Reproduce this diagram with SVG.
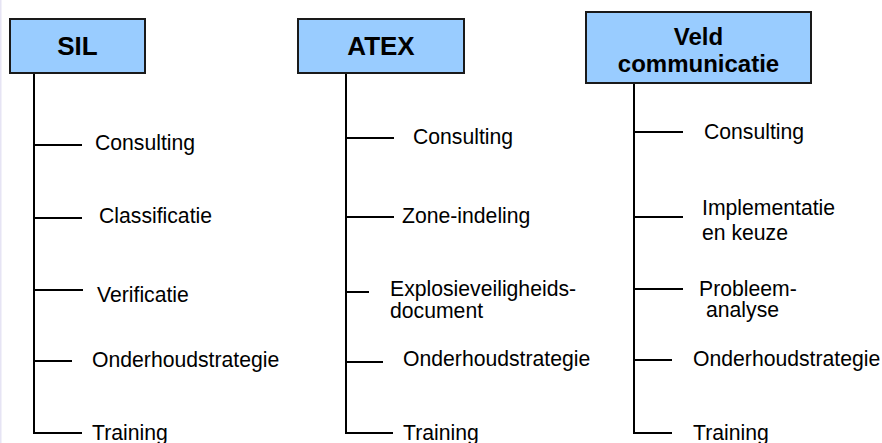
<svg xmlns="http://www.w3.org/2000/svg" width="882" height="443" viewBox="0 0 882 443">
<style>
.bg{fill:#ffffff}
.box{fill:#99ccff;stroke:#1a1a1a;stroke-width:2}
.head{font-family:"Liberation Sans",Arial,sans-serif;font-weight:bold;fill:#000;text-anchor:middle}
.lbl{font-family:"Liberation Sans",Arial,sans-serif;font-size:21.2px;fill:#000}
.ln{stroke:#000;stroke-width:2;fill:none}
</style>
<rect class="bg" x="0" y="0" width="882" height="443"/>
<rect x="0" y="0" width="1.5" height="443" fill="#e6e4f4"/>
<g id="connectors">
<path class="ln" d="M34 73V433H82M34 145H82M34 218H82M34 290H83M34 361H72"/>
<path class="ln" d="M346 73V433H393M346 138H394M346 217H394M346 292H369M346 362H383"/>
<path class="ln" d="M634 83V433H672M634 132H683M634 217H683M634 289H683M634 360H672"/>
</g>
<g id="sil">
<rect class="box" x="10" y="19" width="135" height="54"/>
<text class="head" x="77.5" y="55" font-size="26">SIL</text>
</g>
<g id="atex">
<rect class="box" x="298" y="19" width="166" height="54"/>
<text class="head" x="381" y="55" font-size="26">ATEX</text>
</g>
<g id="veld">
<rect class="box" x="586" y="12" width="225" height="71"/>
<text class="head" x="698.5" y="45" font-size="24">Veld</text>
<text class="head" x="698.5" y="72" font-size="24">communicatie</text>
</g>
<g id="sil-items">
<text class="lbl" x="95" y="150">Consulting</text>
<text class="lbl" x="99" y="223">Classificatie</text>
<text class="lbl" x="97" y="302">Verificatie</text>
<text class="lbl" x="92" y="367">Onderhoudstrategie</text>
<text class="lbl" x="92" y="440">Training</text>
</g>
<g id="atex-items">
<text class="lbl" x="413" y="144">Consulting</text>
<text class="lbl" x="402" y="223">Zone-indeling</text>
<text class="lbl" x="390" y="296">Explosieveiligheids-</text>
<text class="lbl" x="390" y="318">document</text>
<text class="lbl" x="403" y="366">Onderhoudstrategie</text>
<text class="lbl" x="403" y="440">Training</text>
</g>
<g id="veld-items">
<text class="lbl" x="704" y="139">Consulting</text>
<text class="lbl" x="702" y="215">Implementatie</text>
<text class="lbl" x="702" y="240">en keuze</text>
<text class="lbl" x="699" y="296">Probleem-</text>
<text class="lbl" x="706" y="317">analyse</text>
<text class="lbl" x="693" y="366">Onderhoudstrategie</text>
<text class="lbl" x="693" y="440">Training</text>
</g>
</svg>
